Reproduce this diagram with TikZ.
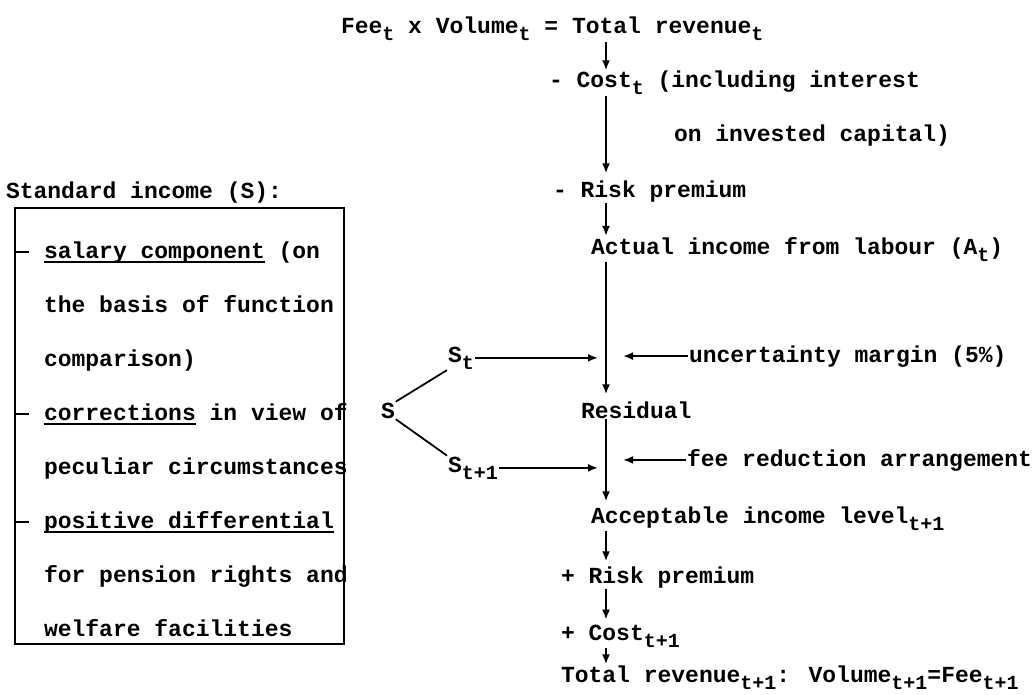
\documentclass[tikz,border=0pt]{standalone}
\usepackage{fontspec}
\setmainfont{Liberation Mono}
\usetikzlibrary{arrows.meta}
\newcommand{\lo}[1]{\raisebox{-7pt}{\fontsize{20}{24}\selectfont #1}}
\newcommand{\undl}[1]{\sbox0{#1}\rlap{\rule[-5pt]{\wd0}{1.6pt}}\usebox0}
\begin{document}
\begin{tikzpicture}[x=1pt,y=-1pt,
  txt/.style={anchor=base west, inner sep=0pt, outer sep=1pt, font=\fontsize{23}{27}\selectfont\bfseries},
  arr/.style={line width=2.2pt, -{Latex[length=10pt,width=8pt]}},
  ln/.style={line width=1.8pt},
  boxst/.style={draw, line width=2pt, inner sep=0pt, anchor=north west}]
\useasboundingbox (0,0) rectangle (1032,695);
% main column
\node[txt] (top) at (340,34) {Fee\lo{t} x Volume\lo{t} = Total revenue\lo{t}};
\node[txt] (cost) at (548,88) {- Cost\lo{t} (including interest};
\node[txt] (inv) at (673,142) {on invested capital)};
\node[txt] (risk) at (552,197) {- Risk premium};
\node[txt] (act) at (590,254) {Actual income from labour (A\lo{t})};
\node[txt] (res) at (580,418) {Residual};
\node[txt] (acc) at (590,523) {Acceptable income level\lo{t+1}};
\node[txt] (prisk) at (560,583) {+ Risk premium};
\node[txt] (pcost) at (560,640) {+ Cost\lo{t+1}};
\node[txt] (total) at (560,682) {Total revenue\lo{t+1}: Volume\lo{t+1}=Fee\lo{t+1}};
% side inputs
\node[txt] (S) at (380,418) {S};
\node[txt] (St) at (447,362) {S\lo{t}};
\node[txt] (St1) at (447,472) {S\lo{t+1}};
\node[txt] (unc) at (688,362) {uncertainty margin (5\%)};
\node[txt] (fee) at (686,466) {fee reduction arrangement};
% standard income box
\node[txt] (std) at (5,198) {Standard income (S):};
\node[boxst, minimum width=329pt, minimum height=436pt] (box) at (14,207) {};
\node[txt] (b1) at (43,258) {\undl{salary component} (on};
\node[txt] (b2) at (43,312) {the basis of function};
\node[txt] (b3) at (43,366) {comparison)};
\node[txt] (b4) at (43,420) {\undl{corrections} in view of};
\node[txt] (b5) at (43,474) {peculiar circumstances};
\node[txt] (b6) at (43,528) {\undl{positive differential}};
\node[txt] (b7) at (43,582) {for pension rights and};
\node[txt] (b8) at (43,636) {welfare facilities};
\foreach \n in {b1,b4,b6} \draw[ln] (box.west |- \n.west) -- ++(15,0);
% connectors
\coordinate (cx) at (606,0);
\coordinate (ah) at (598,0);
\coordinate (ut) at (623,0);
\draw[arr] (top.south -| cx) -- (cost.north -| cx);
\draw[arr, shorten >=6pt] (cost.south -| cx) -- (risk.north -| cx);
\draw[arr] (risk.south -| cx) -- (act.north -| cx);
\draw[arr, shorten >=6pt] (act.south -| cx) -- (res.north -| cx);
\draw[arr, shorten >=4pt] (res.south -| cx) -- (acc.north -| cx);
\draw[arr, shorten >=4pt] (acc.south -| cx) -- (prisk.north -| cx);
\draw[arr, shorten >=4pt] (prisk.south -| cx) -- (pcost.north -| cx);
\draw[arr] (pcost.south -| cx) -- (total.north -| cx);
\draw[arr] (St.east) -- (St.east -| ah);
\draw[arr] (St1.east) -- (St1.east -| ah);
\draw[arr] (unc.west) -- (unc.west -| ut);
\draw[arr] (fee.west) -- (fee.west -| ut);
\draw[ln] (S.north east) -- (St.south west);
\draw[ln] (S.south east) -- (St1.north west);
\end{tikzpicture}
\end{document}
